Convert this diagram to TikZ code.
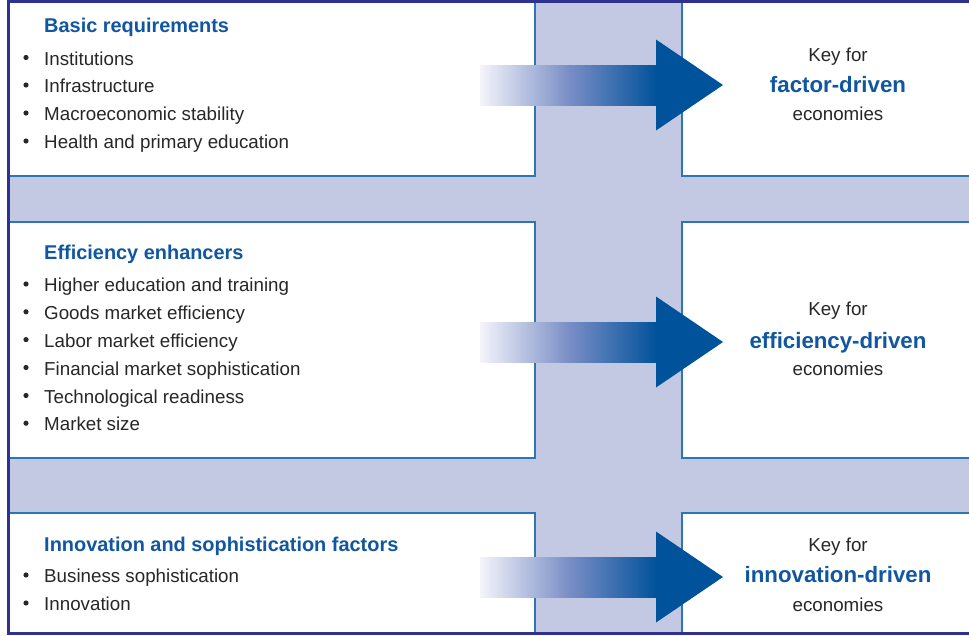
\documentclass[tikz,border=0pt]{standalone}
\usepackage{fontspec}
\setmainfont{Liberation Sans}
\usepackage{tikz}
\definecolor{frameblue}{RGB}{46,49,146}
\definecolor{lineblue}{RGB}{46,117,182}
\definecolor{lav}{RGB}{195,201,226}
\definecolor{titleblue}{RGB}{16,86,160}
\definecolor{arrowblue}{RGB}{0,82,155}
\definecolor{arrowmid}{RGB}{122,142,198}
\definecolor{arrowpale}{RGB}{244,245,251}
\definecolor{textgray}{RGB}{40,38,40}

\begin{document}
\begin{tikzpicture}[x = 0.03cm, y = -0.03cm,
    box/.style = {draw = lineblue, line width = 1.6pt, fill = white},
    head/.style = {anchor = base west, inner sep = 0pt, text = titleblue,
      font = \fontsize{17}{20}\selectfont\bfseries},
    item/.style = {anchor = base west, inner sep = 0pt, text = textgray,
      font = \fontsize{16}{19}\selectfont},
    key/.style = {anchor = base, inner sep = 0pt, text = textgray,
      font = \fontsize{16}{19}\selectfont},
    driven/.style = {anchor = base, inner sep = 0pt, text = titleblue,
      font = \fontsize{19}{22}\selectfont\bfseries}]
        \useasboundingbox (0, 0) rectangle (969, 635);
        \fill[lav] (8, 1) rectangle (969, 633);

        % white panels
        \draw[box] (8, 1) rectangle (535, 176);
        \draw[box] (682, 1) rectangle (990, 176);
        \draw[box] (8, 222) rectangle (535, 458);
        \draw[box] (682, 222) rectangle (990, 458);
        \draw[box] (8, 513) rectangle (535, 633);
        \draw[box] (682, 513) rectangle (990, 633);

        \draw[frameblue, line width = 2.6pt] (990, 1.3) -- (8.3, 1.3) -- (8.3, 633.5) -- (990, 633.5);

        % arrows
        \foreach \y in {85, 342, 577} {
          \shade[left color = arrowpale, right color = arrowblue, middle color = arrowmid]
            (480, \y - 20) rectangle (657, \y + 20);
          \fill[arrowblue] (656, \y - 45.5) -- (723, \y) -- (656, \y + 45.5) -- cycle;
        }

        % left column
        \node[head] (basic) at (44, 32) {Basic requirements};
        \foreach \txt/\y [count = \i] in {Institutions/65, Infrastructure/92.5,
            Macroeconomic stability/120.5, Health and primary education/148.5} {
          \fill[textgray] (26, \y - 7.5) circle (2.2pt);
          \node[item] (basic\i) at (44, \y) {\txt};
        }

        \node[head] (effic) at (44, 259.5) {Efficiency enhancers};
        \foreach \txt/\y [count = \i] in {Higher education and training/291.5,
            Goods market efficiency/319.3, Labor market efficiency/347.1,
            Financial market sophistication/375, Technological readiness/403,
            Market size/430.7} {
          \fill[textgray] (26, \y - 7.5) circle (2.2pt);
          \node[item] (effic\i) at (44, \y) {\txt};
        }

        \node[head] (innov) at (44, 551) {Innovation and sophistication factors};
        \foreach \txt/\y [count = \i] in {Business sophistication/582.5, Innovation/610.5} {
          \fill[textgray] (26, \y - 7.5) circle (2.2pt);
          \node[item] (innov\i) at (44, \y) {\txt};
        }

        % right column
        \node[key] (keyA) at (838, 61) {Key for};
        \node[driven] (drivA) at (838, 92.5) {factor-driven};
        \node[key] (econA) at (838, 120) {economies};

        \node[key] (keyB) at (838, 315.5) {Key for};
        \node[driven] (drivB) at (838, 348) {efficiency-driven};
        \node[key] (econB) at (838, 375.5) {economies};

        \node[key] (keyC) at (838, 551) {Key for};
        \node[driven] (drivC) at (838, 582) {innovation-driven};
        \node[key] (econC) at (838, 611) {economies};
\end{tikzpicture}
\end{document}
